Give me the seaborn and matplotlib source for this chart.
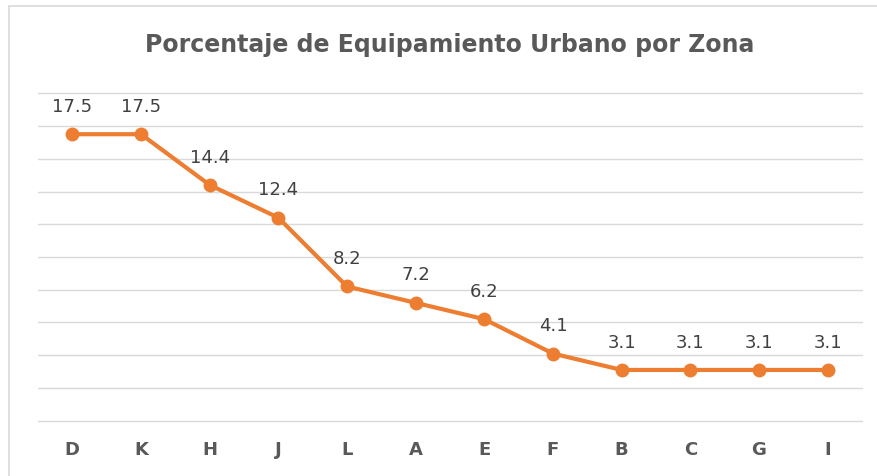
import matplotlib
matplotlib.use("Agg")
import matplotlib.pyplot as plt
import matplotlib.patches as mpatches
import seaborn as sns
import pandas as pd

zonas = ["D", "K", "H", "J", "L", "A", "E", "F", "B", "C", "G", "I"]
porcentajes = [17.5, 17.5, 14.4, 12.4, 8.2, 7.2, 6.2, 4.1, 3.1, 3.1, 3.1, 3.1]
titulo = "Porcentaje de Equipamiento Urbano por Zona"

df = pd.DataFrame({"Zona": zonas, "Porcentaje": porcentajes})

sns.set_theme(style="white")
plt.rcParams["font.family"] = ["DejaVu Sans"]

fig = plt.figure(figsize=(8.78, 4.77), dpi=100)
ax = fig.add_axes([38 / 878, 1 - 421.7 / 477, (862 - 38) / 878, (421.7 - 94.3) / 477])

# outer chart border
fig.patches.append(mpatches.Rectangle((9 / 878, -0.1), 1.2, 1 - 6.5 / 477 + 0.1,
                                      transform=fig.transFigure, fill=False,
                                      edgecolor="#D9D9D9", linewidth=1.2, zorder=0))

orange = "#ED7D31"
sns.lineplot(data=df, x="Zona", y="Porcentaje", sort=False, ax=ax, color=orange,
             linewidth=3.0, marker="o", markersize=10, markeredgewidth=0, zorder=3)

ax.set_xlim(-0.5, len(zonas) - 0.5)
ax.set_ylim(0, 20)
ax.set_yticks(range(0, 21, 2))
ax.yaxis.grid(True, color="#D9D9D9", linewidth=1.0)
for gl in ax.get_ygridlines():
    gl.set_clip_on(False)
ax.xaxis.grid(False)
ax.tick_params(axis="y", left=False, labelleft=False)
ax.tick_params(axis="x", bottom=False, pad=8)
for lbl in ax.get_xticklabels():
    lbl.set_fontweight("bold")
    lbl.set_fontsize(13)
    lbl.set_color("#595959")
for s in ax.spines.values():
    s.set_visible(False)
ax.set_xlabel("")
ax.set_ylabel("")

for i, v in enumerate(porcentajes):
    ax.annotate(f"{v:.1f}", (i, v), xytext=(0, 14), textcoords="offset points",
                ha="center", va="bottom", fontsize=13, color="#404040")

fig.text(450 / 878, 1 - 45 / 477, titulo, ha="center", va="center",
         fontsize=17, fontweight="bold", color="#595959")

fig.savefig("out.png", dpi=100, facecolor="white")
